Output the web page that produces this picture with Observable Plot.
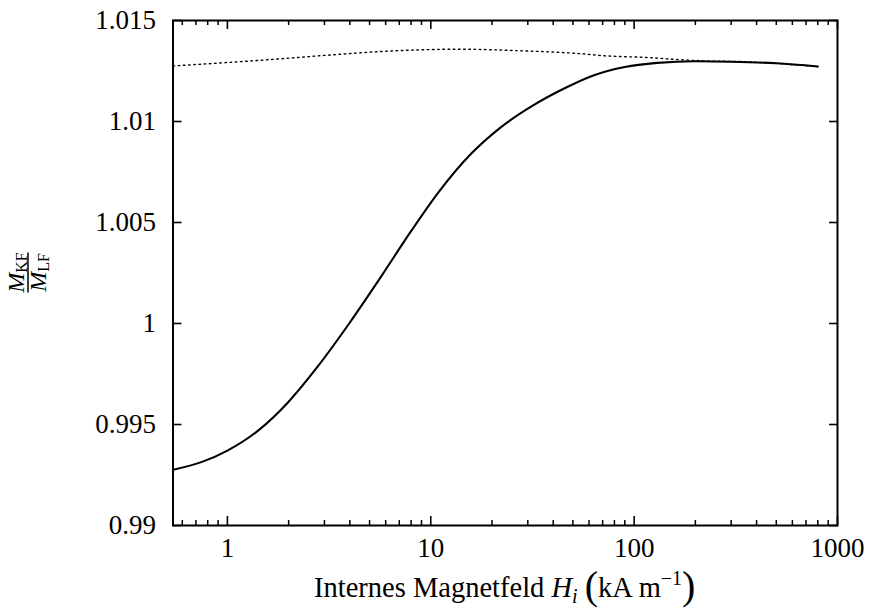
<!DOCTYPE html>
<html><head><meta charset="utf-8">
<script src="https://cdn.jsdelivr.net/npm/d3@7"></script>
<script src="https://cdn.jsdelivr.net/npm/@observablehq/plot@0.6"></script>
<style>body{margin:0;background:#fff}</style>
</head><body><div id="chart"></div>
<script>
// Solid curve
const hSolid = [0.54, 0.75, 1, 1.4, 2, 2.8, 4, 5.6, 8, 11, 16, 22, 32, 45, 63, 90, 130, 200, 300, 500, 800];
const mSolid = [0.99276, 0.99315, 0.99371, 0.99466, 0.99613, 0.99791, 1.00005, 1.00221, 1.00457, 1.00654, 1.00846, 1.00970, 1.01081, 1.01162, 1.01228, 1.01270, 1.01290, 1.01298, 1.01296, 1.01288, 1.01272];
// Dotted curve
const hDotted = [0.54, 1.54, 2.29, 3.27, 7.0, 14, 26, 58.7, 68, 125, 145, 212, 373, 793];
const mDotted = [1.01275, 1.01305, 1.01318, 1.01330, 1.01351, 1.01358, 1.01351, 1.01333, 1.01327, 1.01315, 1.01310, 1.01301, 1.01295, 1.01272];
// Ticks
const xMajor = [1, 10, 100, 1000];
const xMinor = [0.6, 0.7, 0.8, 0.9, 2, 3, 4, 5, 6, 7, 8, 9, 20, 30, 40, 50, 60, 70, 80, 90, 200, 300, 400, 500, 600, 700, 800, 900];
const yTicks = [0.99, 0.995, 1, 1.005, 1.01, 1.015];

const solid = hSolid.map((h, i) => ({h, m: mSolid[i]}));
const dotted = hDotted.map((h, i) => ({h, m: mDotted[i]}));
const FS = 27;
const FONT = '"Liberation Serif", "Times New Roman", serif';
const blank = () => "";
const innerH = 612 - 20 - 87;

const plot = Plot.plot({
  width: 878, height: 612,
  marginLeft: 172.5, marginRight: 41, marginTop: 20, marginBottom: 87,
  x: {type: "log", domain: [0.54, 1000]},
  y: {domain: [0.99, 1.015]},
  marks: [
    Plot.tickX(xMinor, {x: d => d, insetTop: innerH - 5, stroke: "black", strokeWidth: 1.5}),
    Plot.tickX(xMinor, {x: d => d, insetBottom: innerH - 5, stroke: "black", strokeWidth: 1.5}),
    Plot.tickX(xMajor, {x: d => d, insetTop: innerH - 9, stroke: "black", strokeWidth: 1.6}),
    Plot.tickX(xMajor, {x: d => d, insetBottom: innerH - 9, stroke: "black", strokeWidth: 1.6}),
    Plot.axisX(xMajor, {anchor: "bottom", tickSize: 0, tickPadding: 12, tickFormat: d => String(d), label: null, fontSize: FS}),
    Plot.axisY(yTicks, {anchor: "left", tickSize: -9, tickPadding: 26, tickFormat: d => String(d), label: null, strokeWidth: 1.6, fontSize: FS}),
    Plot.axisY(yTicks, {anchor: "right", tickSize: -9, tickFormat: blank, label: null, strokeWidth: 1.6}),
    Plot.line(dotted, {x: "h", y: "m", curve: "monotone-x", stroke: "black", strokeDasharray: "1.6,3.6", strokeWidth: 1.4}),
    Plot.line(solid, {x: "h", y: "m", curve: "monotone-x", stroke: "black", strokeWidth: 2.1}),
    Plot.frame({stroke: "black", strokeWidth: 2})
  ]
});
document.getElementById("chart").appendChild(plot);

const svg = d3.select(plot);
svg.selectAll("text").style("font-family", FONT);

// x-axis label
const xl = svg.append("text")
  .attr("x", 504.75).attr("y", 597)
  .attr("text-anchor", "middle").attr("font-size", 28.5).attr("fill", "black").style("font-family", FONT);
xl.append("tspan").text("Internes Magnetfeld ");
xl.append("tspan").attr("font-style", "italic").text("H");
xl.append("tspan").attr("font-style", "italic").attr("font-size", 20).attr("dy", 6).text("i");
xl.append("tspan").attr("dy", -6).text(" ");
xl.append("tspan").attr("font-size", 40).attr("dy", 2).text("(");
xl.append("tspan").attr("dy", -2).text("kA\u2009m");
xl.append("tspan").attr("font-size", 20).attr("dy", -12).text("\u22121");
xl.append("tspan").attr("font-size", 40).attr("dy", 14).text(")");

// y-axis label: fraction M_KF / M_LF, rotated
const yl = svg.append("g").attr("transform", "translate(28,272.5) rotate(-90)").attr("fill", "black");
const num = yl.append("text").attr("x", 0).attr("y", -4).attr("text-anchor", "middle").attr("font-size", 24).style("font-family", FONT);
num.append("tspan").attr("font-style", "italic").text("M");
num.append("tspan").attr("font-size", 16).attr("dy", 3).text("KF");
yl.append("line").attr("x1", -20).attr("x2", 20).attr("y1", 0).attr("y2", 0).attr("stroke", "black").attr("stroke-width", 1.5);
const den = yl.append("text").attr("x", 0).attr("y", 18).attr("text-anchor", "middle").attr("font-size", 24).style("font-family", FONT);
den.append("tspan").attr("font-style", "italic").text("M");
den.append("tspan").attr("font-size", 16).attr("dy", 3).text("LF");
</script></body></html>
